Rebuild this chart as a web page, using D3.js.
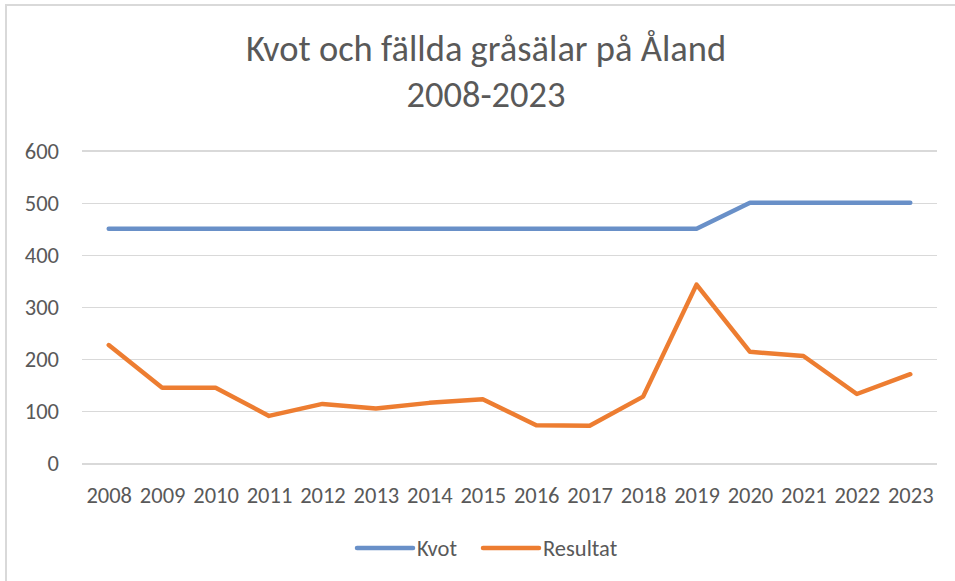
<!DOCTYPE html>
<meta charset="utf-8">
<style>
body { margin: 0; background: #fff; }
text { font-family: Carlito, Calibri, "Liberation Sans", sans-serif; fill: #595959; }
.grid line { stroke: #d9d9d9; stroke-width: 1.5px; shape-rendering: crispEdges; }
.grid path { stroke-width: 0; }
.axis path, .axis line { display: none; }
.axis text { font-size: 22.5px; }
.line { fill: none; stroke-width: 4.5px; stroke-linejoin: round; stroke-linecap: round; }
</style>
<body>
<script src="https://d3js.org/d3.v7.min.js"></script>
<script>

// data
var years = ["2008","2009","2010","2011","2012","2013","2014","2015",
             "2016","2017","2018","2019","2020","2021","2022","2023"];
var kvot = [450,450,450,450,450,450,450,450,450,450,450,450,500,500,500,500];
var resultat = [227,145,145,91,114,105,116,123,73,72,128,343,214,206,133,171];
var yTicks = [0,100,200,300,400,500,600];
var seriesNames = ["Kvot","Resultat"];
var colors = ["#6990c8","#ed7d31"];

var W = 955, H = 581;
var plot = {left: 82, right: 937, top: 150.7, bottom: 463.3};

var svg = d3.select("body").append("svg")
    .attr("width", W).attr("height", H);

// chart frame
svg.append("rect")
    .attr("x", 6).attr("y", 5)
    .attr("width", W + 10).attr("height", H + 10)
    .attr("fill", "none").attr("stroke", "#d9d9d9").attr("stroke-width", 2);

var x = d3.scalePoint().domain(years).range([plot.left, plot.right]).padding(0.5);
var y = d3.scaleLinear().domain([0, 600]).range([plot.bottom, plot.top]);

// horizontal grid lines
svg.append("g")
    .attr("class", "grid")
    .attr("transform", "translate(" + plot.left + ",0)")
    .call(d3.axisLeft(y).tickValues(yTicks)
        .tickSize(-(plot.right - plot.left)).tickFormat(""));

// y axis labels
svg.append("g")
    .attr("class", "axis")
    .attr("transform", "translate(" + (plot.left - 23) + ",0)")
    .call(d3.axisLeft(y).tickValues(yTicks).tickSize(0).tickPadding(0))
    .selectAll("text").attr("dy", "0.33em");

// x axis labels
svg.append("g")
    .attr("class", "axis")
    .attr("transform", "translate(0," + plot.bottom + ")")
    .call(d3.axisBottom(x).tickSize(0).tickPadding(26))
    .selectAll("text").attr("dy", "0.6em");

var line = d3.line()
    .x(function(d, i) { return x(years[i]); })
    .y(function(d) { return y(d); });

[kvot, resultat].forEach(function(s, i) {
  svg.append("path")
     .datum(s)
     .attr("class", "line")
     .attr("stroke", colors[i])
     .attr("d", line);
});

// title
var title = svg.append("text")
    .attr("x", 486).attr("y", 61)
    .attr("text-anchor", "middle")
    .style("font-size", "36.5px");
title.append("tspan").attr("x", 486).text("Kvot och fällda gråsälar på Åland");
title.append("tspan").attr("x", 486).attr("y", 107).text("2008-2023");

// legend
var legendX = [357, 483];
seriesNames.forEach(function(name, i) {
  var g = svg.append("g").attr("transform", "translate(" + legendX[i] + ",548)");
  g.append("line")
   .attr("x1", 0).attr("x2", 56)
   .attr("stroke", colors[i]).attr("stroke-width", 4.5)
   .attr("stroke-linecap", "round");
  g.append("text")
   .attr("x", 60).attr("dy", "0.35em")
   .style("font-size", "22.5px")
   .text(name);
});

</script>
</body>
